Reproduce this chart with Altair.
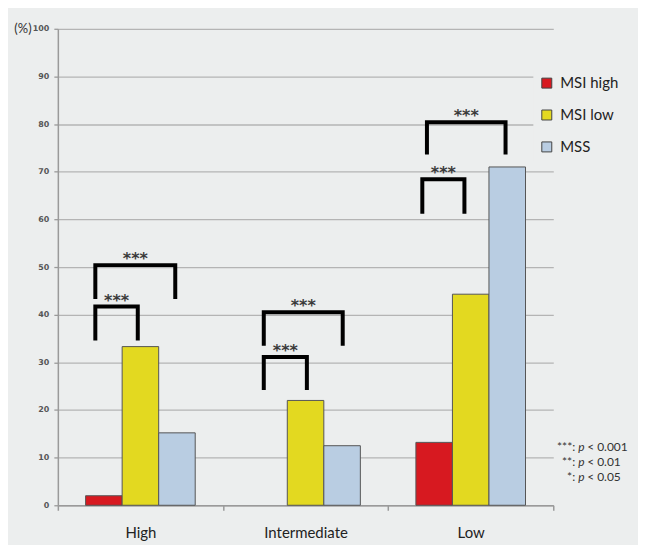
import altair as alt
import pandas as pd

# ---- data ----
categories = ["High", "Intermediate", "Low"]
groups = ["MSI high", "MSI low", "MSS"]
msi_high = [2.0, 0.0, 13.2]
msi_low = [33.3, 22.0, 44.3]
mss = [15.2, 12.5, 71.0]
colors = ["#d71920", "#e3d920", "#b9cde2"]

# significance brackets (x in category units: 0..3, y in %)
bracket_left = [0.227, 0.227, 1.247, 1.247, 2.207, 2.235]
bracket_right = [0.484, 0.711, 1.508, 1.725, 2.462, 2.711]
bracket_top = [41.7, 50.4, 31.1, 40.5, 68.4, 80.4]
bracket_leg = [34.6, 43.3, 24.2, 33.5, 61.2, 73.6]
bracket_label = ["***", "***", "***", "***", "***", "***"]

legend_notes = ["***:", "**:", "*:"]
legend_p = ["< 0.001", "< 0.01", "< 0.05"]

BG = "#eceeee"
FONT = "Lato"

rows = []
for ci, c in enumerate(categories):
    for g, vals in zip(groups, [msi_high, msi_low, mss]):
        rows.append({"category": c, "group": g, "value": vals[ci]})
df = pd.DataFrame(rows)

brow = []
for i in range(len(bracket_left)):
    pts = [(bracket_left[i], bracket_leg[i]), (bracket_left[i], bracket_top[i]),
           (bracket_right[i], bracket_top[i]), (bracket_right[i], bracket_leg[i])]
    for k, (xx, yy) in enumerate(pts):
        brow.append({"id": i, "k": k, "bx": xx, "value": yy})
bdf = pd.DataFrame(brow)
sdf = pd.DataFrame({
    "bx": [(l + r) / 2 for l, r in zip(bracket_left, bracket_right)],
    "value": bracket_top,
    "label": bracket_label,
})

yscale = alt.Scale(domain=[0, 100], nice=False)
xq = alt.Scale(domain=[0, 3], nice=False, zero=False)

bars = alt.Chart(df).transform_filter("datum.value > 0").mark_bar(
    stroke="#555555", strokeWidth=1
).encode(
    x=alt.X("category:N", sort=categories,
            scale=alt.Scale(paddingInner=0, paddingOuter=0),
            axis=alt.Axis(title=None, labelAngle=0, tickBand="extent", grid=False,
                          domainColor="#9a9a9a", domainWidth=1.5, tickColor="#9a9a9a",
                          tickWidth=1.5, tickSize=5, labelFont=FONT, labelFontSize=15,
                          labelColor="#222222", labelPadding=15)),
    xOffset=alt.XOffset("group:N", sort=groups,
                        scale=alt.Scale(paddingInner=0, paddingOuter=0.76)),
    y=alt.Y("value:Q", scale=yscale,
            axis=alt.Axis(title=None, values=list(range(0, 101, 10)), grid=True,
                          gridColor="#b4b4b4", gridWidth=1.3, domainColor="#9a9a9a",
                          domainWidth=1.5, tickColor="#9a9a9a", tickSize=4, tickWidth=1.3,
                          labelFont="DejaVu Sans", labelFontSize=8, labelFontWeight="bold",
                          labelColor="#555555", labelPadding=5)),
    color=alt.Color("group:N", sort=groups,
                    scale=alt.Scale(domain=groups, range=colors),
                    legend=alt.Legend(title=None, orient="none", legendX=477, legendY=41,
                                      fillColor=BG, padding=6, symbolType="square",
                                      symbolSize=100, symbolStrokeColor="#444444",
                                      symbolStrokeWidth=1, labelFont=FONT,
                                      labelFontSize=15, labelColor="#222222",
                                      labelOffset=6, rowPadding=16)),
)

brackets = alt.Chart(bdf).mark_line(
    color="black", strokeWidth=4, strokeJoin="miter", strokeCap="butt"
).encode(
    x=alt.X("bx:Q", scale=xq, axis=None),
    y=alt.Y("value:Q", scale=yscale, axis=None),
    detail="id:N",
    order="k:O",
)

stars = alt.Chart(sdf).mark_text(
    font="DejaVu Sans", fontSize=16, fontWeight="bold", color="#3a3a3a",
    baseline="middle", dy=-6
).encode(
    x=alt.X("bx:Q", scale=xq, axis=None),
    y=alt.Y("value:Q", scale=yscale, axis=None),
    text="label:N",
)

one = pd.DataFrame({"v": [0]})
pct = alt.Chart(one).mark_text(
    text="(%)", font=FONT, fontSize=13, color="#333333", align="center", baseline="middle"
).encode(x=alt.value(-35), y=alt.value(0))

ndf = pd.DataFrame({"a": legend_notes, "b": legend_p, "row": [0, 1, 2]})
note_y = alt.Y("row:O", scale=alt.Scale(range=[420, 450], padding=0), axis=None)
n1 = alt.Chart(ndf).mark_text(font=FONT, fontSize=12, color="#333333", align="right",
                              baseline="middle").encode(x=alt.value(519), y=note_y, text="a:N")
n2 = alt.Chart(ndf).mark_text(font=FONT, fontSize=12, color="#333333", align="left",
                              baseline="middle", fontStyle="italic", text="p").encode(
    x=alt.value(522), y=note_y)
n3 = alt.Chart(ndf).mark_text(font=FONT, fontSize=12, color="#333333", align="left",
                              baseline="middle").encode(x=alt.value(531), y=note_y, text="b:N")

chart = alt.layer(bars, brackets, stars, pct, n1, n2, n3).resolve_scale(
    x="independent", y="independent"
).resolve_axis(x="independent", y="independent").properties(
    width=497, height=478,
    autosize=alt.AutoSizeParams(type="none"),
    padding={"left": 50, "top": 20, "right": 85, "bottom": 39},
    background=BG,
).configure_view(stroke=None)

chart.save("out.html", embed_options={"renderer": "svg", "actions": False})
